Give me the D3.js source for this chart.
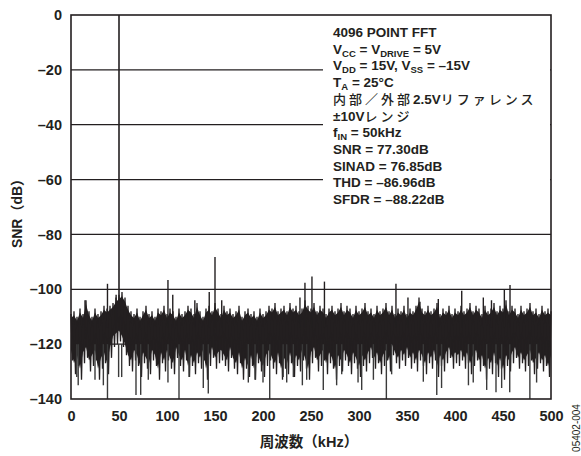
<!DOCTYPE html>
<html>
<head>
<meta charset="utf-8">
<script src="https://cdn.jsdelivr.net/npm/d3@7"></script>
<style>
  body { margin: 0; background: #fff; }
  svg { display: block; }
  text { font-family: "Liberation Sans", Arial, "Noto Sans CJK JP", sans-serif; fill: #231f20; }
</style>
</head>
<body>
<svg id="chart"></svg>
<script>
// FFT plot, 4096 point, fIN = 50kHz

const yTicks = [0, -20, -40, -60, -80, -100, -120, -140];
const xTicks = [0, 50, 100, 150, 200, 250, 300, 350, 400, 450, 500];
const gridLines = [-20, -40, -60, -80, -100, -120];

// noise floor, one bin every 3.125 kHz: upper and lower envelope (dB)
const binStep = 3.125;
const noiseTop = [
  -109, -108, -110, -107, -109, -104, -108, -110, -107, -109,
  -108, -106, -107, -106, -105, -103, -102, -101, -103, -106,
  -108, -109, -107, -110, -108, -106, -109, -108, -110, -107,
  -108, -106, -109, -107, -108, -110, -107, -109, -108, -106,
  -107, -109, -105, -108, -110, -107, -106, -108, -105, -107,
  -109, -106, -108, -107, -109, -108, -106, -110, -108, -107,
  -109, -108, -110, -107, -109, -108, -106, -107, -105, -108,
  -107, -106, -108, -105, -107, -106, -108, -107, -104, -106,
  -107, -105, -108, -106, -107, -109, -107, -106, -108, -107,
  -105, -108, -106, -107, -109, -106, -108, -107, -105, -108,
  -107, -109, -106, -108, -107, -105, -108, -106, -109, -107,
  -108, -106, -109, -107, -108, -106, -103, -107, -108, -106,
  -108, -107, -105, -109, -107, -108, -106, -109, -107, -108,
  -106, -108, -107, -105, -108, -106, -107, -109, -106, -108,
  -107, -105, -108, -106, -107, -104, -108, -106, -107, -109,
  -106, -108, -107, -105, -108, -107, -109, -106, -108, -107,
  -108
];
const noiseBottom = [
  -126, -131, -128, -133, -127, -125, -130, -128, -126, -133,
  -129, -127, -131, -125, -121, -120, -119, -121, -124, -128,
  -130, -126, -128, -132, -127, -129, -131, -126, -128, -133,
  -127, -130, -126, -129, -131, -125, -128, -130, -126, -132,
  -128, -131, -127, -129, -126, -133, -128, -125, -129, -127,
  -126, -128, -130, -125, -129, -131, -127, -133, -129, -132,
  -128, -133, -127, -130, -132, -128, -126, -129, -131, -127,
  -133, -129, -131, -127, -132, -128, -130, -126, -129, -133,
  -127, -125, -130, -128, -126, -131, -127, -129, -133, -128,
  -130, -126, -128, -131, -127, -129, -132, -128, -130, -127,
  -125, -129, -127, -131, -128, -126, -130, -124, -127, -129,
  -126, -128, -125, -129, -127, -130, -126, -128, -131, -127,
  -129, -126, -132, -128, -130, -127, -125, -129, -127, -128,
  -126, -129, -127, -131, -128, -126, -130, -128, -133, -129,
  -131, -127, -132, -129, -133, -128, -130, -127, -125, -129,
  -127, -130, -128, -126, -131, -129, -127, -130, -128, -132,
  -128
];

// spurs above the floor: [kHz, dB]
const spursUp = [
  [14.6, -104], [38, -98], [47, -102], [101, -96.6], [106, -102], [129, -104],
  [144, -101], [150, -88.2], [157, -104], [238.5, -103], [243.7, -97.6],
  [251, -95.3], [264, -97.2], [338.5, -98], [351, -103], [363.5, -104.5],
  [382.6, -103.5], [407, -100.5], [429.5, -103], [438, -104], [451.4, -100],
  [457.3, -98.4]
];
// dips below the floor: [kHz, dB]
const spursDown = [
  [6, -132], [7.5, -135], [25, -133], [33.7, -135], [38, -140], [49.6, -132],
  [52.8, -132], [67.7, -138.5], [72.6, -138.5], [80.5, -133], [101, -134],
  [112.5, -140], [123, -132], [137.8, -136], [143, -138], [184.7, -134],
  [191.7, -133], [200, -134], [207, -140], [221, -132], [224.7, -134],
  [231.6, -132], [241, -135], [245.5, -133], [262.8, -136.7], [276.7, -135],
  [282, -131], [299, -134], [302.8, -136.7], [315, -133], [328.5, -140],
  [334, -131], [367, -133.7], [381, -138.5], [386, -136], [414, -135],
  [419, -134], [433, -136.7], [442.7, -137.5], [448.6, -136], [457, -137.5],
  [478, -140], [485, -134]
];
const fundamental = [50, 0];

// legend rows: [text, kind]; kind "sub" = subscript, "jp" = Japanese run
const legendLines = [
  [["4096 POINT FFT"]],
  [["V"], ["CC", "sub"], [" = V"], ["DRIVE", "sub"], [" = 5V"]],
  [["V"], ["DD", "sub"], [" = 15V, V"], ["SS", "sub"], [" = –15V"]],
  [["T"], ["A", "sub"], [" = 25°C"]],
  [["内部／外部", "jp"], ["2.5V"], ["リファレンス", "jp"]],
  [["±10V"], ["レンジ", "jp"]],
  [["f"], ["IN", "sub"], [" = 50kHz"]],
  [["SNR = 77.30dB"]],
  [["SINAD = 76.85dB"]],
  [["THD = –86.96dB"]],
  [["SFDR = –88.22dB"]]
];

const W = 581, H = 456;
const ink = '#231f20';
const svg = d3.select('#chart').attr('width', W).attr('height', H);

const x = d3.scaleLinear().domain([0, 500]).range([71, 551]);
const y = d3.scaleLinear().domain([-140, 0]).range([399, 15]);

// gridlines
svg.append('g').selectAll('line')
  .data(gridLines)
  .enter().append('line')
  .attr('x1', x(0)).attr('x2', x(500))
  .attr('y1', d => y(d)).attr('y2', d => y(d))
  .attr('stroke', ink).attr('stroke-width', 1.3);

// legend box knocks out the gridlines
svg.append('rect')
  .attr('x', 323).attr('y', 16).attr('width', 227).attr('height', 211)
  .attr('fill', '#fff');

// dense core of the noise floor
const core = d3.area()
  .x((d, i) => x(i * binStep))
  .y0((d, i) => y(noiseBottom[i] + 4))
  .y1(d => y(d - 1.5));
svg.append('path')
  .datum(noiseTop)
  .attr('d', core)
  .attr('fill', ink);

// noise floor as a zigzag between envelopes
const pts = [];
noiseTop.forEach((v, i) => {
  pts.push([i * binStep, v]);
  if (i * binStep + binStep / 2 <= 500) pts.push([i * binStep + binStep / 2, noiseBottom[i]]);
});
const line = d3.line().x(d => x(d[0])).y(d => y(d[1]));
svg.append('path')
  .datum(pts)
  .attr('d', line)
  .attr('fill', 'none')
  .attr('stroke', ink)
  .attr('stroke-width', 1.3)
  .attr('stroke-linejoin', 'miter');

// spurs
svg.append('g').selectAll('line')
  .data(spursUp)
  .enter().append('line')
  .attr('x1', d => x(d[0])).attr('x2', d => x(d[0]))
  .attr('y1', y(-114)).attr('y2', d => y(d[1]))
  .attr('stroke', ink).attr('stroke-width', 1.4);

svg.append('g').selectAll('line')
  .data(spursDown)
  .enter().append('line')
  .attr('x1', d => x(d[0])).attr('x2', d => x(d[0]))
  .attr('y1', y(-120)).attr('y2', d => y(d[1]))
  .attr('stroke', '#3a3a3a').attr('stroke-width', 1.4);

svg.append('line')
  .attr('x1', x(fundamental[0])).attr('x2', x(fundamental[0]))
  .attr('y1', y(-105)).attr('y2', y(fundamental[1]))
  .attr('stroke', ink).attr('stroke-width', 1.6);

// frame
svg.append('rect')
  .attr('x', x(0)).attr('y', y(0))
  .attr('width', x(500) - x(0)).attr('height', y(-140) - y(0))
  .attr('fill', 'none').attr('stroke', ink).attr('stroke-width', 1.6);

// axes
const fmt = d => d === 0 ? '0' : '–' + Math.abs(d);
const yAxis = svg.append('g')
  .attr('transform', `translate(${x(0)},0)`)
  .call(d3.axisLeft(y).tickValues(yTicks).tickSize(0).tickPadding(9).tickFormat(fmt));
const xAxis = svg.append('g')
  .attr('transform', `translate(0,${y(-140)})`)
  .call(d3.axisBottom(x).tickValues(xTicks).tickSize(0).tickPadding(12));
[yAxis, xAxis].forEach(g => {
  g.select('.domain').remove();
  g.selectAll('text')
    .attr('font-family', '"Liberation Sans", Arial, sans-serif')
    .attr('font-size', 14.5).attr('font-weight', 'bold').attr('fill', ink);
});

// axis titles
svg.append('text')
  .attr('transform', 'translate(22,210) rotate(-90)')
  .attr('text-anchor', 'middle')
  .attr('font-size', 14).attr('font-weight', 'bold')
  .text('SNR（dB）');

svg.append('text')
  .attr('x', 309).attr('y', 447)
  .attr('text-anchor', 'middle')
  .attr('font-size', 14.5).attr('font-weight', 'bold')
  .text('周波数（kHz）');

svg.append('text')
  .attr('transform', 'translate(580,428) rotate(-90)')
  .attr('text-anchor', 'middle')
  .attr('font-size', 10)
  .attr('fill', '#444')
  .text('05402-004');

// legend text
const leg = svg.append('g');
legendLines.forEach((parts, i) => {
  const t = leg.append('text')
    .attr('x', 333).attr('y', 37 + i * 16.7)
    .attr('font-size', 13.5).attr('font-weight', 'bold');
  parts.forEach(p => {
    const s = t.append('tspan').text(p[0]);
    if (p[1] === 'sub') s.attr('font-size', 9.5).attr('baseline-shift', '-2.5');
    if (p[1] === 'jp') s.attr('font-size', 13).attr('letter-spacing', 3)
      .attr('font-family', '"Noto Sans CJK JP", sans-serif').attr('font-weight', 500);
  });
});
</script>
</body>
</html>
